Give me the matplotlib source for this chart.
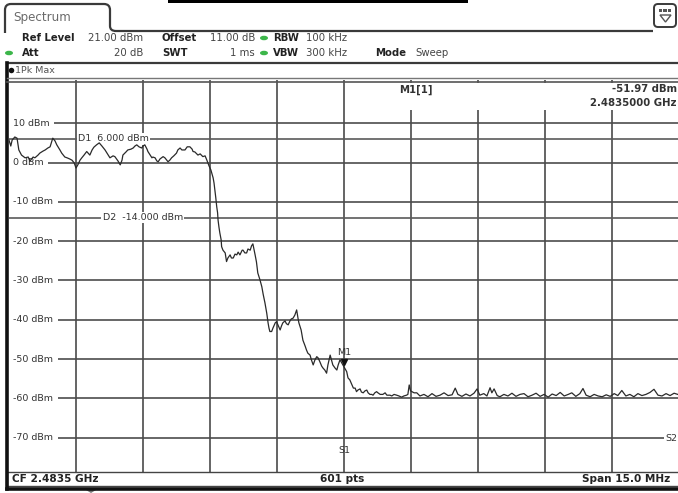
import numpy as np
import matplotlib
matplotlib.use("Agg")
import matplotlib.pyplot as plt
import matplotlib.transforms as mtransforms
from matplotlib.patches import Rectangle, Ellipse, FancyBboxPatch, PathPatch, Polygon
from matplotlib.path import Path

# ---------------------------------------------------------------- settings
REF_LEVEL = 21.0          # dBm, top of the display
RANGE_DB = 100.0          # 10 divisions of 10 dB
CENTER_GHZ = 2.4835
SPAN_MHZ = 15.0
D1_LEVEL = 6.0
D2_LEVEL = -14.0
M1_FREQ_MHZ = 0.0         # offset from centre frequency
M1_LEVEL = -51.97

level_ticks = [10, 0, -10, -20, -30, -40, -50, -60, -70]
level_tick_labels = ["10 dBm", "0 dBm", "-10 dBm", "-20 dBm", "-30 dBm",
                     "-40 dBm", "-50 dBm", "-60 dBm", "-70 dBm"]

# ---------------------------------------------------------------- trace (1Pk Max)
# frequency offsets from the centre frequency in MHz, levels in dBm
passband_freq = [-7.50, -7.46, -7.43, -7.37, -7.32, -7.28, -7.22, -7.14, -7.07, -7.03,
                 -6.96, -6.92, -6.85, -6.81, -6.74, -6.69, -6.63, -6.58, -6.52, -6.47,
                 -6.43, -6.36, -6.32, -6.25, -6.20, -6.14, -6.09, -6.04, -6.00, -5.95,
                 -5.91, -5.87, -5.82, -5.76, -5.73, -5.69, -5.64, -5.60, -5.54, -5.48,
                 -5.42, -5.35, -5.28, -5.24, -5.17, -5.13, -5.06, -5.01, -4.97, -4.95,
                 -4.88, -4.84, -4.77, -4.72, -4.68, -4.64, -4.59, -4.53, -4.50, -4.46,
                 -4.41, -4.39, -4.34, -4.30, -4.28, -4.23, -4.19, -4.16, -4.12, -4.05,
                 -4.01, -3.94, -3.90, -3.86, -3.81, -3.75, -3.72, -3.67, -3.63, -3.56,
                 -3.51, -3.45, -3.40, -3.38, -3.34, -3.27, -3.22, -3.16, -3.11, -3.07]
passband_level = [5.7, 4.2, 5.7, 6.5, 6.2, 3.2, 1.9, 1.2, 1.4, 0.4,
                  1.4, 1.2, 1.9, 2.4, 2.9, 3.2, 3.7, 4.0, 6.2, 5.5,
                  4.5, 3.2, 2.4, 1.4, 1.2, 0.9, 0.6, -0.1, -1.4, -0.4,
                  0.6, 1.2, 1.9, 2.8, 2.4, 1.9, 3.2, 3.9, 4.5, 5.0,
                  4.2, 3.2, 1.9, 1.2, 1.7, 1.5, 0.4, -0.6, 0.6, 1.9,
                  2.7, 3.2, 3.4, 3.7, 4.2, 4.5, 4.0, 3.7, 4.2, 4.5,
                  3.4, 2.8, 1.9, 1.2, 1.4, 1.2, 0.4, 0.2, 0.9, 1.5,
                  1.2, 0.2, 0.6, 1.2, 1.7, 2.4, 3.2, 3.7, 3.2, 3.2,
                  4.0, 4.0, 3.4, 2.8, 2.7, 1.9, 2.2, 1.5, 1.7, 0.6]

skirt_freq = [-3.02, -2.98, -2.93, -2.91, -2.89, -2.87, -2.85, -2.83, -2.82, -2.80,
              -2.78, -2.75, -2.74, -2.71, -2.66, -2.63, -2.60, -2.55, -2.52, -2.48,
              -2.44, -2.40, -2.37, -2.33, -2.28, -2.26, -2.22, -2.18, -2.15, -2.10,
              -2.07, -2.04, -2.01, -1.99, -1.96, -1.93, -1.88, -1.84, -1.81, -1.77,
              -1.73, -1.70, -1.68, -1.66, -1.62, -1.59, -1.54, -1.51, -1.48, -1.43,
              -1.40, -1.37, -1.32, -1.29, -1.25, -1.21, -1.18, -1.14, -1.10, -1.06,
              -1.03, -1.01, -0.96, -0.92, -0.87, -0.84, -0.81, -0.76, -0.73, -0.69,
              -0.65, -0.61, -0.58, -0.54, -0.50, -0.47, -0.43, -0.39, -0.36, -0.31,
              -0.28, -0.25, -0.20, -0.16, -0.13, -0.09, -0.04]
skirt_level = [-0.9, -1.9, -3.9, -5.2, -7.0, -9.0, -11.2, -12.8, -14.6, -16.4,
               -17.9, -19.7, -21.4, -22.3, -23.0, -25.2, -24.3, -23.5, -24.3, -24.3,
               -23.3, -23.5, -22.8, -23.5, -22.3, -22.3, -23.0, -23.0, -22.0, -22.3,
               -21.2, -20.7, -22.3, -23.5, -25.3, -28.1, -29.9, -31.6, -33.5, -35.7,
               -38.3, -40.8, -42.1, -43.0, -43.0, -42.1, -40.8, -40.5, -41.3, -42.6,
               -41.6, -40.8, -40.3, -41.0, -41.3, -40.3, -39.8, -39.6, -38.8, -37.5,
               -39.6, -40.8, -42.6, -45.2, -46.7, -47.7, -48.5, -49.0, -50.2, -51.5,
               -50.2, -49.4, -49.7, -50.7, -51.8, -52.3, -52.8, -53.6, -51.5, -49.0,
               -50.2, -51.5, -52.3, -52.8, -51.5, -50.2, -51.2]

edge_freq = [0.00, 0.06, 0.09, 0.13, 0.18, 0.21, 0.25, 0.28, 0.31, 0.36,
             0.39, 0.43, 0.47, 0.51, 0.54, 0.58, 0.62, 0.65, 0.69, 0.73,
             0.76, 0.81, 0.87, 0.92, 0.96, 1.03, 1.07, 1.12, 1.18, 1.23,
             1.29, 1.34, 1.40, 1.43, 1.46, 1.49, 1.52, 1.57, 1.63]
edge_level = [-51.97, -53.2, -54.8, -55.3, -56.6, -57.4, -57.4, -58.3, -57.9, -57.6,
              -58.4, -58.6, -58.1, -57.9, -58.6, -59.0, -59.0, -59.2, -58.6, -58.3,
              -58.6, -59.0, -59.0, -58.6, -59.2, -59.2, -59.4, -59.0, -59.2, -59.4,
              -59.7, -59.4, -59.2, -59.0, -56.6, -58.1, -58.3, -58.6, -58.6]

floor_freq = [1.70, 1.79, 1.88, 1.97, 2.06, 2.15, 2.24, 2.33, 2.42, 2.49,
              2.55, 2.64, 2.73, 2.82, 2.91, 2.98, 3.04, 3.13, 3.20, 3.27,
              3.31, 3.36, 3.43, 3.49, 3.58, 3.67, 3.76, 3.85, 3.94, 4.03,
              4.12, 4.21, 4.30, 4.39, 4.48, 4.57, 4.66, 4.75, 4.84, 4.93,
              5.02, 5.10, 5.19, 5.28, 5.35, 5.42, 5.51, 5.60, 5.69, 5.78,
              5.87, 5.96, 6.05, 6.13, 6.22, 6.31, 6.40, 6.49, 6.58, 6.67,
              6.76, 6.85, 6.94, 7.03, 7.12, 7.21, 7.30, 7.39, 7.50]
floor_level = [-59.4, -59.0, -59.6, -58.8, -59.5, -59.2, -58.6, -59.3, -59.1, -57.4,
               -59.0, -59.5, -58.9, -59.4, -58.7, -57.6, -59.2, -58.8, -59.4, -57.3,
               -58.6, -57.6, -59.3, -59.6, -59.0, -59.4, -58.7, -59.5, -59.0, -58.8,
               -59.6, -59.2, -58.7, -59.5, -59.0, -59.7, -58.9, -59.3, -58.5, -59.4,
               -59.0, -58.6, -59.5, -58.8, -57.5, -59.2, -59.6, -59.0, -59.4, -59.6,
               -59.1, -59.5, -58.8, -59.3, -58.0, -59.4, -59.0, -59.6, -58.8, -59.3,
               -59.0, -58.5, -57.7, -59.2, -59.4, -58.8, -59.3, -58.7, -59.1]

trace_freq = np.array(passband_freq + skirt_freq + edge_freq + floor_freq)
trace_level = np.array(passband_level + skirt_level + edge_level + floor_level)

# ---------------------------------------------------------------- figure
W, H = 678, 493
plt.rcParams["font.family"] = ["DejaVu Sans"]
fig = plt.figure(figsize=(W / 100, H / 100), dpi=100)
fig.patch.set_facecolor("white")

GRID = "#4a4a4a"
TXT = "#333333"
TRACE = "#2a2a2a"

# diagram area in pixels
left_px, right_px, top_px, bot_px = 9, 679, 80, 473
ax = fig.add_axes([left_px / W, 1 - bot_px / H,
                   (right_px - left_px) / W, (bot_px - top_px) / H], zorder=1)
ax.set_xlim(-SPAN_MHZ / 2, SPAN_MHZ / 2)
ax.set_ylim(REF_LEVEL - RANGE_DB, REF_LEVEL)
ax.set_xticks([])
ax.set_yticks([])
for s in ax.spines.values():
    s.set_visible(False)

# grid
for lv in level_ticks:
    ax.axhline(lv, color="#5a5a5a", lw=1.3, zorder=1)
for k in range(1, 10):
    ax.axvline(-SPAN_MHZ / 2 + k * SPAN_MHZ / 10, color=GRID, lw=1.2, zorder=1)
# display lines D1 / D2
ax.axhline(D1_LEVEL, color="#5a5a5a", lw=1.2, zorder=1)
ax.axhline(D2_LEVEL, color="#5a5a5a", lw=1.2, zorder=1)

blend = mtransforms.blended_transform_factory(ax.transAxes, ax.transData)
lbl_box = dict(facecolor="white", edgecolor="none", pad=1.0)
wide_box = dict(facecolor="white", edgecolor="none", pad=3.0)
for lv, lab in zip(level_ticks, level_tick_labels):
    ax.text(0.0065, lv, lab, transform=blend, ha="left", va="center",
            fontsize=6.8, color=TXT, bbox=wide_box, zorder=3)
ax.text(0.103, D1_LEVEL, f"D1  {D1_LEVEL:.3f} dBm", transform=blend, ha="left",
        va="center", fontsize=6.8, color=TXT, bbox=lbl_box, zorder=3)
ax.text(0.140, D2_LEVEL, f"D2  {D2_LEVEL:.3f} dBm", transform=blend, ha="left",
        va="center", fontsize=6.8, color=TXT, bbox=lbl_box, zorder=3)
ax.text(0.0, -73.3, "S1", ha="center", va="center", fontsize=6.8, color=TXT, zorder=3)
ax.text(0.998, -70.2, "S2", transform=blend, ha="right", va="center",
        fontsize=6.8, color=TXT, bbox=lbl_box, zorder=3)

# trace
ax.plot(trace_freq, trace_level, color=TRACE, lw=0.9, zorder=4)

# marker M1
tri = mtransforms.offset_copy(ax.transData, fig=fig, x=0, y=3.6, units="points")
ax.plot([M1_FREQ_MHZ], [M1_LEVEL], marker="v", ms=5, color="#111111",
        transform=tri, zorder=5)
ax.annotate("M1", xy=(M1_FREQ_MHZ, M1_LEVEL), xytext=(0, 10.5),
            textcoords="offset points", ha="center", va="center",
            fontsize=6.8, color=TXT, zorder=5)

# ---------------------------------------------------------------- chrome (pixel coordinates)
ov = fig.add_axes([0, 0, 1, 1], zorder=3)
ov.set_xlim(0, W)
ov.set_ylim(H, 0)
ov.axis("off")
ov.patch.set_alpha(0)

# tab "Spectrum"
verts = [(5, 33), (5, 10), (5, 4), (11, 4), (104, 4), (110, 4), (110, 10),
         (110, 26), (110, 31), (116, 31), (653, 31)]
codes = [Path.MOVETO, Path.LINETO, Path.CURVE3, Path.CURVE3, Path.LINETO,
         Path.CURVE3, Path.CURVE3, Path.LINETO, Path.CURVE3, Path.CURVE3, Path.LINETO]
ov.add_patch(PathPatch(Path(verts, codes), facecolor="none", edgecolor="#3a3a3a", lw=1.6))
ov.text(13, 18, "Spectrum", fontsize=8.6, color="#6a6a6a", ha="left", va="center")
ov.add_patch(Rectangle((168, 0), 300, 3, facecolor="black", edgecolor="none"))

# small icon at the top right
ov.add_patch(FancyBboxPatch((654, 4), 22, 23, boxstyle="round,pad=0,rounding_size=4",
                            facecolor="white", edgecolor="#3a3a3a", lw=1.4))
for i in range(3):
    ov.add_patch(Rectangle((659 + i * 4.3, 8.5), 3.2, 3.2, facecolor="#555555",
                           edgecolor="none"))
ov.add_patch(Polygon([(660, 15), (671, 15), (665.5, 22)], closed=True,
                     facecolor="white", edgecolor="#555555", lw=1))

# setting rows
HS = 7.3
ov.text(22, 38, "Ref Level", fontsize=HS, fontweight="bold", color="#222222", va="center")
ov.text(143, 38, "21.00 dBm", fontsize=HS, color="#444444", va="center", ha="right")
ov.text(162, 38, "Offset", fontsize=HS, fontweight="bold", color="#222222", va="center")
ov.text(255, 38, "11.00 dB", fontsize=HS, color="#444444", va="center", ha="right")
ov.text(273, 38, "RBW", fontsize=HS, fontweight="bold", color="#222222", va="center")
ov.text(306, 38, "100 kHz", fontsize=HS, color="#444444", va="center")

ov.text(22, 53, "Att", fontsize=HS, fontweight="bold", color="#222222", va="center")
ov.text(143, 53, "20 dB", fontsize=HS, color="#444444", va="center", ha="right")
ov.text(162, 53, "SWT", fontsize=HS, fontweight="bold", color="#222222", va="center")
ov.text(255, 53, "1 ms", fontsize=HS, color="#444444", va="center", ha="right")
ov.text(273, 53, "VBW", fontsize=HS, fontweight="bold", color="#222222", va="center")
ov.text(306, 53, "300 kHz", fontsize=HS, color="#444444", va="center")
ov.text(375, 53, "Mode", fontsize=HS, fontweight="bold", color="#222222", va="center")
ov.text(415, 53, "Sweep", fontsize=HS, color="#444444", va="center")

for cx, cy in [(264, 38), (264, 53), (9, 53)]:
    ov.add_patch(Ellipse((cx, cy), 8, 4.5, facecolor="#3cb64a", edgecolor="none"))

# trace window frame
ov.plot([7, 678], [63, 63], color="#3a3a3a", lw=1.6)
ov.plot([7, 7], [63, 489], color="#111111", lw=2.6)
ov.plot([7, 678], [489, 489], color="#111111", lw=2.6)
ov.plot([7, 678], [78, 78], color="#777777", lw=1.0)
ov.plot([7, 678], [81.5, 81.5], color="#555555", lw=1.2)
ov.add_patch(Ellipse((11.5, 70.5), 5.5, 5.5, facecolor="#111111", edgecolor="none"))
ov.text(15, 70.5, "1Pk Max", fontsize=6.8, color="#555555", va="center")

# marker readout box
ov.add_patch(Rectangle((393, 82.5), 290, 27, facecolor="white", edgecolor="none"))
ov.text(399, 89.5, "M1[1]", fontsize=7.3, fontweight="bold", color="#333333", va="center")
ov.text(677, 89.5, f"{M1_LEVEL:.2f} dBm", fontsize=7.3, fontweight="bold",
        color="#333333", va="center", ha="right")
ov.text(677, 103.5, f"{CENTER_GHZ + M1_FREQ_MHZ / 1000:.7f} GHz", fontsize=7.3,
        fontweight="bold", color="#333333", va="center", ha="right")

# status bar
ov.add_patch(Rectangle((7, 471.5), 675, 14.5, facecolor="white", edgecolor="#444444", lw=1.0))
ov.text(12, 478.5, f"CF {CENTER_GHZ} GHz", fontsize=7.6, fontweight="bold",
        color="#222222", va="center")
ov.text(342, 478.5, "601 pts", fontsize=7.6, fontweight="bold", color="#222222",
        va="center", ha="center")
ov.text(670, 478.5, f"Span {SPAN_MHZ:.1f} MHz", fontsize=7.6, fontweight="bold",
        color="#222222", va="center", ha="right")
ov.add_patch(Polygon([(86, 490), (96, 490), (91, 493)], closed=True,
                     facecolor="#777777", edgecolor="none"))

fig.savefig("out.png", dpi=100, facecolor="white")
